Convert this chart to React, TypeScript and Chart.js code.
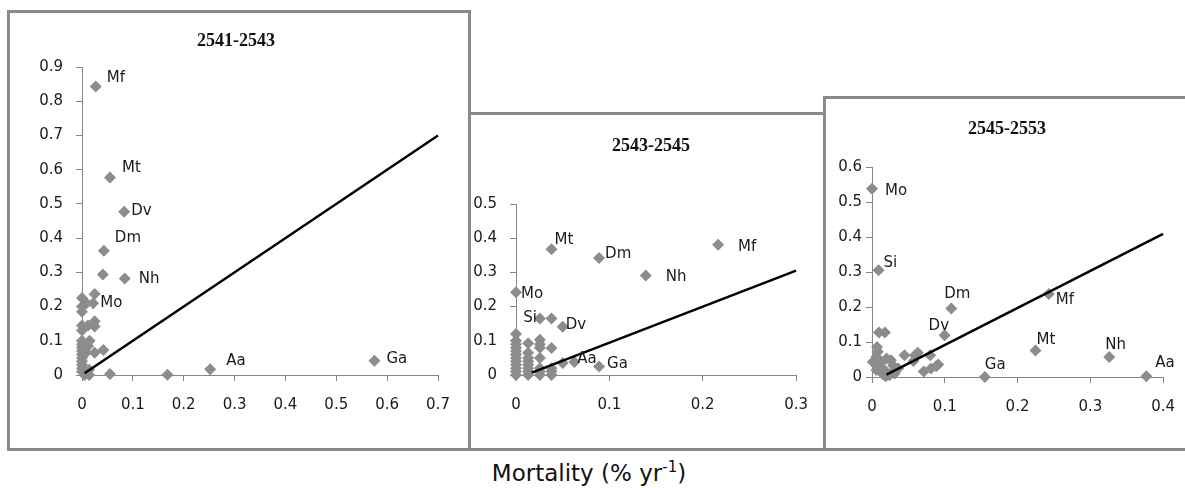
import React, { useEffect, useRef } from 'react';
import { Chart, registerables } from 'chart.js';

Chart.register(...registerables);

// ---------- DATA ----------
// Panel 1: 2541-2543
const p1Title = '2541-2543';
const p1Names = ['Mf', 'Mt', 'Dv', 'Dm', 'Nh', 'Mo', 'Aa', 'Ga', '', '', '', '', '', '', '', '', '', '', '', '', '', '', '', '', '', '', '', '', '', '', '', '', '', '', '', '', '', '', ''];
const p1X = [0.027, 0.055, 0.083, 0.043, 0.084, 0.022, 0.252, 0.575, 0.041, 0.025, 0, 0, 0, 0.009, 0.025, 0.025, 0.012, 0, 0, 0, 0.015, 0.012, 0, 0, 0, 0.008, 0.025, 0.042, 0, 0, 0, 0, 0, 0, 0.005, 0.014, 0.014, 0.055, 0.168];
const p1Y = [0.843, 0.577, 0.477, 0.363, 0.282, 0.21, 0.017, 0.042, 0.294, 0.237, 0.225, 0.2, 0.185, 0.21, 0.157, 0.142, 0.145, 0.145, 0.13, 0.1, 0.1, 0.085, 0.09, 0.08, 0.07, 0.065, 0.065, 0.073, 0.06, 0.05, 0.04, 0.03, 0.02, 0.01, 0, 0.015, 0, 0.003, 0.001];
const p1FitX = [0.005, 0.7];
const p1FitY = [0.005, 0.7];
const p1XRange = [0, 0.7];
const p1YRange = [0, 0.9];

// Panel 2: 2543-2545
const p2Title = '2543-2545';
const p2Names = ['Mt', 'Dm', 'Nh', 'Mf', 'Mo', 'Si', 'Dv', 'Aa', 'Ga', '', '', '', '', '', '', '', '', '', '', '', '', '', '', '', '', '', '', '', '', '', '', '', '', '', '', '', '', '', '', '', '', ''];
const p2X = [0.038, 0.089, 0.139, 0.2165, 0, 0.0256, 0.05, 0.0625, 0.089, 0.038, 0.038, 0.05, 0.038, 0.038, 0.038, 0, 0, 0, 0, 0, 0, 0, 0, 0, 0, 0, 0, 0.013, 0.013, 0.013, 0.013, 0.013, 0.013, 0.013, 0.013, 0.0256, 0.0256, 0.0256, 0.0256, 0.0256, 0.0256, 0.0256];
const p2Y = [0.368, 0.342, 0.291, 0.381, 0.242, 0.165, 0.141, 0.038, 0.025, 0.165, 0.079, 0.035, 0.02, 0.01, 0, 0.12, 0.1, 0.09, 0.08, 0.07, 0.06, 0.05, 0.04, 0.03, 0.02, 0.01, 0, 0.093, 0.065, 0.05, 0.04, 0.03, 0.02, 0.01, 0, 0.103, 0.09, 0.08, 0.05, 0.02, 0.01, 0];
const p2FitX = [0.017, 0.3];
const p2FitY = [0.007, 0.305];
const p2XRange = [0, 0.3];
const p2YRange = [0, 0.5];

// Panel 3: 2545-2553
const p3Title = '2545-2553';
const p3Names = ['Mo', 'Si', 'Dm', 'Dv', 'Mf', 'Mt', 'Nh', 'Aa', 'Ga', '', '', '', '', '', '', '', '', '', '', '', '', '', '', '', '', '', '', '', '', '', '', '', '', '', '', '', '', '', ''];
const p3X = [0, 0.009, 0.109, 0.0998, 0.243, 0.2247, 0.326, 0.377, 0.155, 0.0096, 0.0178, 0.007, 0.008, 0.001, 0.006, 0.013, 0.02, 0.026, 0.029, 0.006, 0.009, 0.013, 0.017, 0.02, 0.026, 0.019, 0.015, 0.0447, 0.036, 0.059, 0.063, 0.057, 0.08, 0.071, 0.081, 0.088, 0.091, 0.031, 0.024];
const p3Y = [0.538, 0.305, 0.196, 0.119, 0.237, 0.076, 0.057, 0.002, 0, 0.127, 0.127, 0.086, 0.072, 0.043, 0.057, 0.043, 0.053, 0.048, 0.033, 0.02, 0.024, 0.015, 0.02, 0.012, 0.01, 0.002, 0.008, 0.062, 0.024, 0.062, 0.069, 0.046, 0.062, 0.016, 0.024, 0.031, 0.036, 0.01, 0.005];
const p3FitX = [0.02, 0.4];
const p3FitY = [0.007, 0.409];
const p3XRange = [0, 0.4];
const p3YRange = [0, 0.6];

const xAxisTitle = 'Mortality (% yr';
const xAxisTitleSup = '-1';

// ---------- STYLE ----------
const MARKER = '#8c8c8c';
const AXIS = '#868686';
const TEXT = '#1a1a1a';
const BORDER = '#8a8a8a';
const SANS = '"DejaVu Sans", sans-serif';
const SERIF = '"Liberation Serif", "Times New Roman", serif';

type Off = [number, number, CanvasTextAlign?];

const p1Offsets: Record<string, Off> = {
  Mf: [11, -8], Mt: [12, -9], Dv: [7, -1], Dm: [11, -13], Nh: [14, 1], Mo: [7, 0], Aa: [16, -8], Ga: [12, -2],
};
const p2Offsets: Record<string, Off> = {
  Mt: [3, -9], Dm: [6, -4], Nh: [20, 2], Mf: [20, 2], Mo: [5, 2], Si: [-3, 0, 'right'], Dv: [3, -2], Aa: [3, -3], Ga: [8, -2],
};
const p3Offsets: Record<string, Off> = {
  Mo: [13, 2], Si: [5, -7], Dm: [-7, -14], Dv: [-16, -9], Mf: [7, 6], Mt: [1, -10], Nh: [-4, -12], Aa: [9, -13], Ga: [0, -12],
};

type PanelCfg = {
  title: string;
  names: string[];
  xs: number[];
  ys: number[];
  fitX: number[];
  fitY: number[];
  xRange: number[];
  yRange: number[];
  offsets: Record<string, Off>;
  box: { left: number; top: number; width: number; height: number };
  pad: { top: number; right: number; bottom: number };
  yWidth: number;
  yTickPad: number;
  titlePos: [number, number];
};

const panels: PanelCfg[] = [
  {
    title: p1Title, names: p1Names, xs: p1X, ys: p1Y, fitX: p1FitX, fitY: p1FitY, xRange: p1XRange, yRange: p1YRange,
    offsets: p1Offsets,
    box: { left: 7, top: 10, width: 464, height: 441 },
    pad: { top: 54, right: 30, bottom: 33 }, yWidth: 72, yTickPad: 13, titlePos: [226, 28],
  },
  {
    title: p2Title, names: p2Names, xs: p2X, ys: p2Y, fitX: p2FitX, fitY: p2FitY, xRange: p2XRange, yRange: p2YRange,
    offsets: p2Offsets,
    box: { left: 468, top: 112, width: 358, height: 339 },
    pad: { top: 89, right: 25, bottom: 33 }, yWidth: 45, yTickPad: 13, titlePos: [180, 31],
  },
  {
    title: p3Title, names: p3Names, xs: p3X, ys: p3Y, fitX: p3FitX, fitY: p3FitY, xRange: p3XRange, yRange: p3YRange,
    offsets: p3Offsets,
    box: { left: 823, top: 96, width: 370, height: 355 },
    pad: { top: 68, right: 25, bottom: 31 }, yWidth: 46, yTickPad: 4, titlePos: [181, 30],
  },
];

function Panel({ cfg }: { cfg: PanelCfg }) {
  const ref = useRef<HTMLCanvasElement>(null);
  const cw = cfg.box.width - 6;
  const ch = cfg.box.height - 6;

  useEffect(() => {
    const canvas = ref.current;
    if (!canvas) return;
    const points = cfg.xs.map((x, i) => ({ x, y: cfg.ys[i] }));
    const fit = cfg.fitX.map((x, i) => ({ x, y: cfg.fitY[i] }));

    const labelPlugin = {
      id: 'pointLabels',
      afterDatasetsDraw(chart: any) {
        const ctx = chart.ctx;
        const meta = chart.getDatasetMeta(0);
        ctx.save();
        ctx.font = `15px ${SANS}`;
        ctx.fillStyle = TEXT;
        ctx.textBaseline = 'middle';
        meta.data.forEach((el: any, i: number) => {
          const name = cfg.names[i];
          if (!name) return;
          const off = cfg.offsets[name] || [8, 0];
          ctx.textAlign = off[2] || 'left';
          ctx.fillText(name, el.x + off[0], el.y + off[1]);
        });
        ctx.restore();
      },
    };
    const titlePlugin = {
      id: 'panelTitle',
      afterDraw(chart: any) {
        const ctx = chart.ctx;
        ctx.save();
        ctx.font = `bold 18px ${SERIF}`;
        ctx.fillStyle = '#111';
        ctx.textAlign = 'center';
        ctx.textBaseline = 'middle';
        ctx.fillText(cfg.title, cfg.titlePos[0], cfg.titlePos[1]);
        ctx.restore();
      },
    };

    const tickFont = { family: SANS, size: 15 };
    const chart = new Chart(canvas, {
      type: 'scatter',
      data: {
        datasets: [
          {
            data: points,
            pointStyle: 'rectRot',
            pointRadius: 6,
            pointHoverRadius: 6,
            backgroundColor: MARKER,
            borderColor: MARKER,
            borderWidth: 0,
            order: 2,
            clip: false,
          } as any,
          {
            data: fit,
            showLine: true,
            pointRadius: 0,
            borderColor: '#000',
            borderWidth: 2.5,
            order: 1,
            clip: false,
          } as any,
        ],
      },
      options: {
        responsive: false,
        animation: false,
        devicePixelRatio: 1,
        layout: { padding: { left: 0, top: cfg.pad.top, right: cfg.pad.right, bottom: cfg.pad.bottom } },
        plugins: { legend: { display: false }, tooltip: { enabled: false }, title: { display: false } },
        scales: {
          x: {
            type: 'linear',
            min: cfg.xRange[0],
            max: cfg.xRange[1],
            ticks: { stepSize: 0.1, padding: 15, color: TEXT, font: tickFont, maxRotation: 0 },
            grid: { drawOnChartArea: false, drawTicks: true, tickLength: 6, color: AXIS, lineWidth: 1 },
            border: { display: true, color: AXIS, width: 1 },
            afterFit: (s: any) => { s.height = 40; },
          },
          y: {
            type: 'linear',
            min: cfg.yRange[0],
            max: cfg.yRange[1],
            ticks: { stepSize: 0.1, padding: cfg.yTickPad, color: TEXT, font: tickFont },
            grid: { drawOnChartArea: false, drawTicks: true, tickLength: 6, color: AXIS, lineWidth: 1 },
            border: { display: true, color: AXIS, width: 1 },
            afterFit: (s: any) => { s.width = cfg.yWidth; },
          },
        },
      } as any,
      plugins: [labelPlugin, titlePlugin],
    });
    return () => chart.destroy();
  }, []);

  return (
    <div
      style={{
        position: 'absolute',
        left: cfg.box.left,
        top: cfg.box.top,
        width: cfg.box.width,
        height: cfg.box.height,
        border: `3px solid ${BORDER}`,
        boxSizing: 'border-box',
        background: '#fff',
      }}
    >
      <canvas ref={ref} width={cw} height={ch} style={{ display: 'block', width: cw, height: ch }} />
    </div>
  );
}

export default function App() {
  return (
    <div
      style={{
        position: 'fixed',
        left: 0,
        top: 0,
        width: 1185,
        height: 488,
        background: '#fff',
        overflow: 'hidden',
      }}
    >
      {panels.map((p, i) => (
        <Panel key={i} cfg={p} />
      ))}
      <div
        style={{
          position: 'absolute',
          left: 589,
          top: 460,
          transform: 'translateX(-50%)',
          fontFamily: SANS,
          fontSize: 23,
          lineHeight: '27px',
          color: '#111',
          whiteSpace: 'nowrap',
        }}
      >
        {xAxisTitle}
        <sup style={{ fontSize: 15, lineHeight: 0, verticalAlign: 'super' }}>{xAxisTitleSup}</sup>)
      </div>
    </div>
  );
}
